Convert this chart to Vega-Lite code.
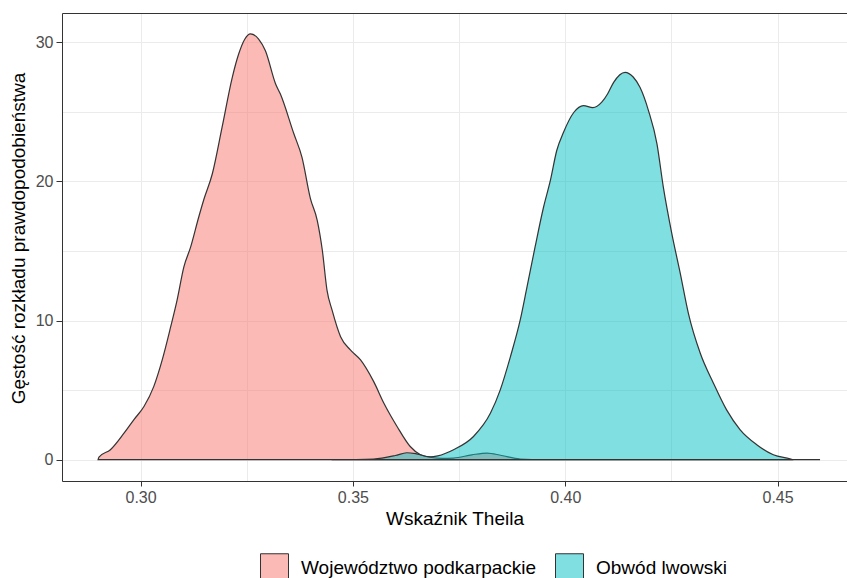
{
  "$schema": "https://vega.github.io/schema/vega-lite/v6.json",
  "autosize": "none",
  "width": 785,
  "height": 468,
  "padding": {"left": 62, "top": 13, "right": 0, "bottom": 97},
  "background": "white",
  "config": {"view": {"stroke": null}, "font": "Liberation Sans"},
  "data": {"values": [
    {"g": "Województwo podkarpackie", "x": 0.2900, "y": 0},
    {"g": "Województwo podkarpackie", "x": 0.2902, "y": 0.19},
    {"g": "Województwo podkarpackie", "x": 0.2929, "y": 0.72},
    {"g": "Województwo podkarpackie", "x": 0.2961, "y": 1.91},
    {"g": "Województwo podkarpackie", "x": 0.2984, "y": 2.87},
    {"g": "Województwo podkarpackie", "x": 0.3008, "y": 3.82},
    {"g": "Województwo podkarpackie", "x": 0.3031, "y": 5.25},
    {"g": "Województwo podkarpackie", "x": 0.3051, "y": 7.17},
    {"g": "Województwo podkarpackie", "x": 0.3071, "y": 9.56},
    {"g": "Województwo podkarpackie", "x": 0.3086, "y": 11.47},
    {"g": "Województwo podkarpackie", "x": 0.3102, "y": 13.86},
    {"g": "Województwo podkarpackie", "x": 0.3118, "y": 15.29},
    {"g": "Województwo podkarpackie", "x": 0.3137, "y": 17.44},
    {"g": "Województwo podkarpackie", "x": 0.3149, "y": 18.7},
    {"g": "Województwo podkarpackie", "x": 0.3169, "y": 20.55},
    {"g": "Województwo podkarpackie", "x": 0.3192, "y": 23.9},
    {"g": "Województwo podkarpackie", "x": 0.3216, "y": 27.48},
    {"g": "Województwo podkarpackie", "x": 0.3231, "y": 29.15},
    {"g": "Województwo podkarpackie", "x": 0.3245, "y": 30.2},
    {"g": "Województwo podkarpackie", "x": 0.3259, "y": 30.6},
    {"g": "Województwo podkarpackie", "x": 0.3278, "y": 30.23},
    {"g": "Województwo podkarpackie", "x": 0.3294, "y": 29.39},
    {"g": "Województwo podkarpackie", "x": 0.3318, "y": 27.0},
    {"g": "Województwo podkarpackie", "x": 0.3329, "y": 26.29},
    {"g": "Województwo podkarpackie", "x": 0.3361, "y": 23.42},
    {"g": "Województwo podkarpackie", "x": 0.3380, "y": 21.74},
    {"g": "Województwo podkarpackie", "x": 0.3400, "y": 18.76},
    {"g": "Województwo podkarpackie", "x": 0.3416, "y": 17.2},
    {"g": "Województwo podkarpackie", "x": 0.3428, "y": 15.05},
    {"g": "Województwo podkarpackie", "x": 0.3439, "y": 12.19},
    {"g": "Województwo podkarpackie", "x": 0.3451, "y": 10.75},
    {"g": "Województwo podkarpackie", "x": 0.3471, "y": 8.84},
    {"g": "Województwo podkarpackie", "x": 0.3494, "y": 7.89},
    {"g": "Województwo podkarpackie", "x": 0.3518, "y": 7.17},
    {"g": "Województwo podkarpackie", "x": 0.3549, "y": 5.61},
    {"g": "Województwo podkarpackie", "x": 0.3573, "y": 4.06},
    {"g": "Województwo podkarpackie", "x": 0.3604, "y": 2.39},
    {"g": "Województwo podkarpackie", "x": 0.3635, "y": 0.95},
    {"g": "Województwo podkarpackie", "x": 0.3659, "y": 0.36},
    {"g": "Województwo podkarpackie", "x": 0.3686, "y": 0.16},
    {"g": "Województwo podkarpackie", "x": 0.3710, "y": 0.10},
    {"g": "Województwo podkarpackie", "x": 0.3737, "y": 0.12},
    {"g": "Województwo podkarpackie", "x": 0.3780, "y": 0.35},
    {"g": "Województwo podkarpackie", "x": 0.3816, "y": 0.48},
    {"g": "Województwo podkarpackie", "x": 0.3850, "y": 0.3},
    {"g": "Województwo podkarpackie", "x": 0.3894, "y": 0.05},
    {"g": "Województwo podkarpackie", "x": 0.3950, "y": 0},
    {"g": "Województwo podkarpackie", "x": 0.4600, "y": 0},
    {"g": "Obwód lwowski", "x": 0.3450, "y": 0},
    {"g": "Obwód lwowski", "x": 0.3549, "y": 0.05},
    {"g": "Obwód lwowski", "x": 0.3600, "y": 0.3},
    {"g": "Obwód lwowski", "x": 0.3627, "y": 0.5},
    {"g": "Obwód lwowski", "x": 0.3650, "y": 0.42},
    {"g": "Obwód lwowski", "x": 0.3682, "y": 0.2},
    {"g": "Obwód lwowski", "x": 0.3700, "y": 0.28},
    {"g": "Obwód lwowski", "x": 0.3737, "y": 0.72},
    {"g": "Obwód lwowski", "x": 0.3784, "y": 1.67},
    {"g": "Obwód lwowski", "x": 0.3824, "y": 3.35},
    {"g": "Obwód lwowski", "x": 0.3847, "y": 5.02},
    {"g": "Obwód lwowski", "x": 0.3871, "y": 7.41},
    {"g": "Obwód lwowski", "x": 0.3894, "y": 10.04},
    {"g": "Obwód lwowski", "x": 0.3910, "y": 12.42},
    {"g": "Obwód lwowski", "x": 0.3929, "y": 15.29},
    {"g": "Obwód lwowski", "x": 0.3949, "y": 18.16},
    {"g": "Obwód lwowski", "x": 0.3965, "y": 20.07},
    {"g": "Obwód lwowski", "x": 0.3980, "y": 22.22},
    {"g": "Obwód lwowski", "x": 0.3996, "y": 23.53},
    {"g": "Obwód lwowski", "x": 0.4020, "y": 24.95},
    {"g": "Obwód lwowski", "x": 0.4043, "y": 25.45},
    {"g": "Obwód lwowski", "x": 0.4065, "y": 25.3},
    {"g": "Obwód lwowski", "x": 0.4086, "y": 25.69},
    {"g": "Obwód lwowski", "x": 0.4100, "y": 26.3},
    {"g": "Obwód lwowski", "x": 0.4114, "y": 27.12},
    {"g": "Obwód lwowski", "x": 0.4141, "y": 27.84},
    {"g": "Obwód lwowski", "x": 0.4160, "y": 27.5},
    {"g": "Obwód lwowski", "x": 0.4176, "y": 26.76},
    {"g": "Obwód lwowski", "x": 0.4196, "y": 25.09},
    {"g": "Obwód lwowski", "x": 0.4216, "y": 22.7},
    {"g": "Obwód lwowski", "x": 0.4231, "y": 19.59},
    {"g": "Obwód lwowski", "x": 0.4251, "y": 16.25},
    {"g": "Obwód lwowski", "x": 0.4271, "y": 13.38},
    {"g": "Obwód lwowski", "x": 0.4290, "y": 10.52},
    {"g": "Obwód lwowski", "x": 0.4318, "y": 7.65},
    {"g": "Obwód lwowski", "x": 0.4349, "y": 5.5},
    {"g": "Obwód lwowski", "x": 0.4380, "y": 3.58},
    {"g": "Obwód lwowski", "x": 0.4412, "y": 2.15},
    {"g": "Obwód lwowski", "x": 0.4451, "y": 1.08},
    {"g": "Obwód lwowski", "x": 0.4490, "y": 0.36},
    {"g": "Obwód lwowski", "x": 0.4529, "y": 0.07},
    {"g": "Obwód lwowski", "x": 0.4537, "y": 0}
  ]},
  "layer": [
    {
      "transform": [{"filter": "datum.g === 'Województwo podkarpackie'"}],
      "mark": {"type": "area", "stroke": "#333333", "strokeWidth": 1.2, "fillOpacity": 0.5, "interpolate": "monotone"},
      "encoding": {
        "x": {"field": "x", "type": "quantitative",
          "scale": {"domain": [0.2815, 0.46635], "nice": false, "zero": false},
          "axis": {"orient": "top", "values": [0.3, 0.325, 0.35, 0.375, 0.4, 0.425, 0.45],
            "grid": true, "gridColor": "#EBEBEB", "gridWidth": 1, "ticks": false, "labels": false,
            "domain": true, "domainColor": "#333333", "domainWidth": 1, "title": null}},
        "y": {"field": "y", "type": "quantitative",
          "scale": {"domain": [-1.53, 32.1], "nice": false, "zero": false},
          "axis": {"orient": "right", "values": [0, 5, 10, 15, 20, 25, 30],
            "grid": true, "gridColor": "#EBEBEB", "gridWidth": 1, "ticks": false, "labels": false,
            "domain": false, "title": null}},
        "fill": {"field": "g", "type": "nominal",
          "scale": {"domain": ["Województwo podkarpackie", "Obwód lwowski"], "range": ["#F8766D", "#00BFC4"]},
          "legend": {"orient": "none", "direction": "horizontal", "legendX": 198, "legendY": 540,
            "title": null, "symbolType": "square", "symbolSize": 784,
            "symbolStrokeColor": "#333333", "symbolStrokeWidth": 1, "symbolOpacity": 1,
            "labelFontSize": 19, "labelColor": "#000000", "labelFont": "Liberation Sans",
            "labelOffset": 12, "columnPadding": 16, "padding": 0, "labelLimit": 400,
            "encode": {"symbols": {"update": {"fillOpacity": {"value": 0.5}, "stroke": {"value": "#333333"}, "strokeWidth": {"value": 1}}}}}}
      }
    },
    {
      "transform": [{"filter": "datum.g === 'Obwód lwowski'"}],
      "mark": {"type": "area", "stroke": "#333333", "strokeWidth": 1.2, "fillOpacity": 0.5, "interpolate": "monotone"},
      "encoding": {
        "x": {"field": "x", "type": "quantitative",
          "axis": {"orient": "bottom", "values": [0.3, 0.35, 0.4, 0.45], "format": ".2f",
            "grid": false, "tickSize": 5, "tickColor": "#333333", "tickWidth": 1,
            "labelColor": "#4D4D4D", "labelFontSize": 16, "labelPadding": 3, "labelFont": "Liberation Sans",
            "domainColor": "#333333", "domainWidth": 1,
            "title": "Wskaźnik Theila", "titleFontSize": 19, "titleFontWeight": "normal", "titleColor": "#000000",
            "titleFont": "Liberation Sans", "titleBaseline": "alphabetic", "titleY": 43}},
        "y": {"field": "y", "type": "quantitative",
          "axis": {"orient": "left", "values": [0, 10, 20, 30],
            "grid": false, "tickSize": 6, "tickColor": "#333333", "tickWidth": 1,
            "labelColor": "#4D4D4D", "labelFontSize": 16, "labelPadding": 3, "labelFont": "Liberation Sans",
            "domainColor": "#333333", "domainWidth": 1,
            "title": "Gęstość rozkładu prawdopodobieństwa", "titleFontSize": 19, "titleFontWeight": "normal",
            "titleColor": "#000000", "titleFont": "Liberation Sans", "titleBaseline": "alphabetic",
            "titleX": -38, "titleY": 225, "titleAngle": -90}},
        "fill": {"field": "g", "type": "nominal", "legend": null}
      }
    }
  ],
  "resolve": {"axis": {"x": "independent", "y": "independent"}}
}
